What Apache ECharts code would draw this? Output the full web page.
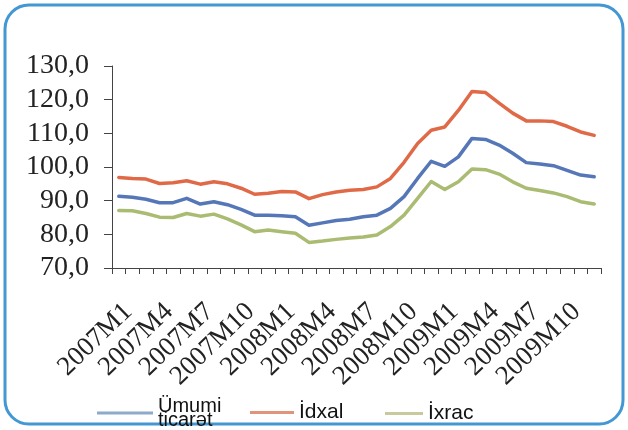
<!DOCTYPE html>
<html>
<head>
<meta charset="utf-8">
<script src="https://cdn.jsdelivr.net/npm/echarts@6/dist/echarts.min.js"></script>
<style>
html,body{margin:0;padding:0;background:#fff;}
#c{width:628px;height:430px;}
</style>
</head>
<body>
<div id="c"></div>
<script>
// Categories
var months = [];
var years = ['2007','2008','2009'];
for (var y = 0; y < years.length; y++) {
  for (var m = 1; m <= 12; m++) months.push(years[y] + 'M' + m);
}
// Series names
var nameTotal = 'Ümumi\nticarət';
var nameImport = 'İdxal';
var nameExport = 'İxrac';
// Values
var total = [91.3, 91.0, 90.4, 89.4, 89.4, 90.7, 89.0, 89.7, 88.8, 87.4, 85.7, 85.7,
             85.5, 85.2, 82.7, 83.4, 84.1, 84.5, 85.2, 85.7, 87.7, 91.2, 96.6, 101.7,
             100.2, 103.0, 108.5, 108.2, 106.5, 104.1, 101.3, 100.9, 100.4, 99.0, 97.6, 97.1];
var imports = [96.9, 96.6, 96.4, 95.1, 95.3, 95.9, 94.9, 95.6, 95.0, 93.7, 91.9, 92.2,
               92.7, 92.6, 90.6, 91.8, 92.6, 93.1, 93.3, 94.1, 96.6, 101.4, 107.0, 110.9,
               111.9, 116.8, 122.4, 122.1, 119.0, 116.0, 113.7, 113.7, 113.5, 112.1, 110.4, 109.4];
var exports = [87.1, 87.0, 86.2, 85.1, 85.0, 86.2, 85.4, 86.0, 84.6, 82.8, 80.8, 81.3,
               80.8, 80.3, 77.6, 78.0, 78.5, 78.9, 79.2, 79.8, 82.3, 85.7, 90.7, 95.7,
               93.3, 95.6, 99.4, 99.2, 97.9, 95.6, 93.7, 93.0, 92.3, 91.2, 89.7, 89.0];
// Axis ticks
var yMin = 70, yMax = 130, yStep = 10;
var labelEvery = 3;

var chart = echarts.init(document.getElementById('c'), null, {renderer: 'canvas'});

var serifFont = '"Liberation Serif", "DejaVu Serif", serif';
var sansFont = '"Liberation Sans", Arial, sans-serif';

function mkLegend(name, left, top, w, color, fs, padBottom, lh) {
  return {
    show: true,
    left: left,
    top: top,
    orient: 'horizontal',
    padding: 0,
    itemGap: 0,
    itemWidth: w,
    itemHeight: 3,
    selectedMode: false,
    icon: 'rect',
    data: [{name: name, icon: 'rect', itemStyle: {color: color, borderWidth: 0}}],
    textStyle: {
      fontFamily: sansFont,
      fontSize: fs,
      color: '#111',
      lineHeight: lh,
      padding: [0, 0, padBottom, 0]
    }
  };
}

var option = {
  backgroundColor: '#ffffff',
  animation: false,
  graphic: [{
    type: 'rect',
    silent: true,
    z: -10,
    shape: {x: 5, y: 5, width: 618, height: 419, r: 24},
    style: {fill: '#ffffff', stroke: '#4397d2', lineWidth: 3}
  }],
  grid: {
    left: 112, right: 27, top: 66, bottom: 162,
    containLabel: false,
    outerBoundsMode: 'none'
  },
  legend: [
    mkLegend(nameTotal, 97, 394, 56, '#8eaacb', 20, 10, 14),
    mkLegend(nameImport, 250, 402, 44, '#e0947c', 21, 0, 20),
    mkLegend(nameExport, 385, 397, 38, '#c9c99c', 21, 13, 20)
  ],
  xAxis: {
    type: 'category',
    data: months,
    boundaryGap: true,
    axisLine: {lineStyle: {color: '#444', width: 1}},
    axisTick: {show: true, interval: 0, length: 6, lineStyle: {color: '#444'}},
    axisLabel: {
      interval: 0,
      formatter: function (value, index) { return index % labelEvery === 0 ? value : ''; },
      rotate: 44,
      align: 'right',
      verticalAlign: 'top',
      margin: 30,
      showMinLabel: true,
      showMaxLabel: true,
      hideOverlap: false,
      fontFamily: serifFont,
      fontSize: 27,
      color: '#222'
    },
    splitLine: {show: false}
  },
  yAxis: {
    type: 'value',
    min: yMin,
    max: yMax,
    interval: yStep,
    axisLine: {show: true, lineStyle: {color: '#444', width: 1}},
    axisTick: {show: true, length: 8, lineStyle: {color: '#444'}},
    axisLabel: {
      margin: 23,
      fontFamily: serifFont,
      fontSize: 28,
      color: '#222',
      formatter: function (v) { return v.toFixed(1).replace('.', ','); }
    },
    splitLine: {show: false}
  },
  series: [
    {name: nameTotal, type: 'line', data: total, symbol: 'none', color: '#5577b8',
     lineStyle: {width: 3.5, color: '#5577b8', join: 'round', cap: 'round'}, z: 3},
    {name: nameImport, type: 'line', data: imports, symbol: 'none', color: '#e06a48',
     lineStyle: {width: 3.5, color: '#e06a48', join: 'round', cap: 'round'}, z: 3},
    {name: nameExport, type: 'line', data: exports, symbol: 'none', color: '#a9bc72',
     lineStyle: {width: 3.5, color: '#a9bc72', join: 'round', cap: 'round'}, z: 3}
  ]
};
chart.setOption(option);
</script>
</body>
</html>
